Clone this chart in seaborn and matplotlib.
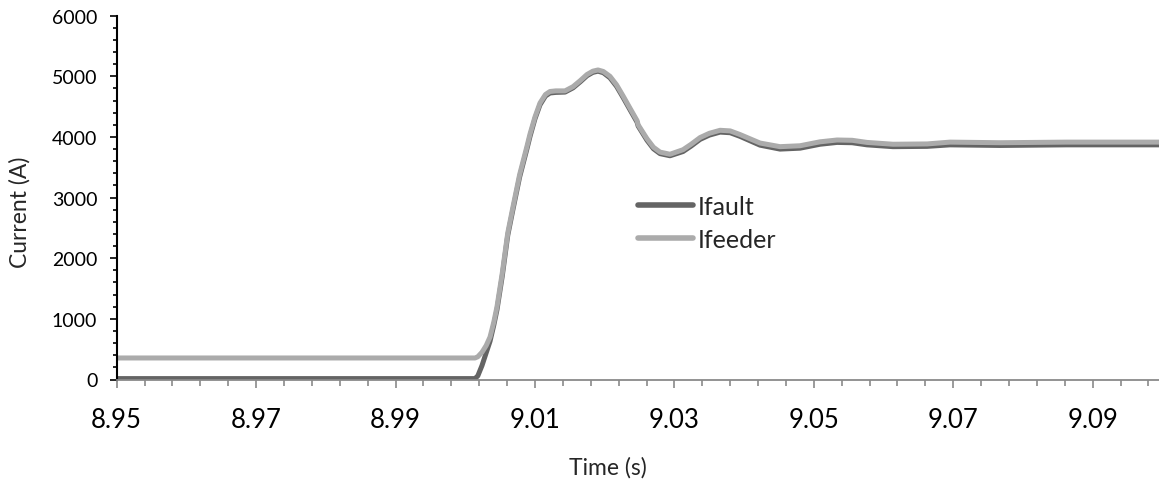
import numpy as np
import pandas as pd
import matplotlib
matplotlib.use("Agg")
import matplotlib.pyplot as plt
from matplotlib.ticker import FixedLocator
import seaborn as sns

# ---------------- data ----------------
time_s = [8.95, 9.0014, 9.0018, 9.0024, 9.0030, 9.00355, 9.0041, 9.00455, 9.0053,
          9.00599, 9.0061, 9.00685, 9.0078, 9.00886, 9.00929, 9.0100, 9.01072, 9.0115,
          9.01215, 9.0130, 9.01431, 9.01546, 9.0165, 9.01746, 9.01830, 9.01904, 9.0198,
          9.02076, 9.0217, 9.02262, 9.0236, 9.02464, 9.0248, 9.02607, 9.0270, 9.02794,
          9.02937, 9.03124, 9.0324, 9.03368, 9.0350, 9.03655, 9.0380, 9.03941, 9.04228,
          9.04515, 9.04802, 9.05089, 9.05333, 9.0555, 9.05763, 9.06136, 9.06624, 9.06954,
          9.07671, 9.08632, 9.1]

i_feeder = [355, 355, 375, 450, 560, 700, 950, 1200, 1750,
            2330, 2420, 2850, 3380, 3850, 4050, 4330, 4560, 4700,
            4750, 4760, 4760, 4830, 4930, 5030, 5085, 5105, 5080,
            5000, 4860, 4680, 4480, 4270, 4200, 3970, 3830, 3750,
            3715, 3790, 3880, 3990, 4060, 4110, 4100, 4040, 3900,
            3840, 3855, 3920, 3950, 3945, 3910, 3880, 3885, 3915,
            3905, 3915, 3915]

i_fault = [15, 15, 60, 230, 440, 630, 900, 1150, 1700,
           2290, 2380, 2810, 3340, 3810, 4010, 4300, 4530, 4675,
           4725, 4735, 4740, 4810, 4910, 5010, 5065, 5085, 5060,
           4975, 4835, 4655, 4455, 4245, 4180, 3945, 3805, 3725,
           3690, 3760, 3850, 3960, 4030, 4080, 4070, 4010, 3865,
           3800, 3815, 3880, 3910, 3905, 3870, 3840, 3845, 3870,
           3860, 3870, 3870]

series_names = ["Ifault", "Ifeeder"]
x_tick_labels = ["8.95", "8.97", "8.99", "9.01", "9.03", "9.05", "9.07", "9.09"]
y_tick_values = [0, 1000, 2000, 3000, 4000, 5000, 6000]

# ---------------- style ----------------
sns.set_style("ticks")
plt.rcParams["font.family"] = ["Lato", "DejaVu Sans"]

df = pd.DataFrame({
    "Time": time_s + time_s,
    "Current": i_fault + i_feeder,
    "Series": [series_names[0]] * len(time_s) + [series_names[1]] * len(time_s),
})

W, H = 1159, 485
fig = plt.figure(figsize=(W / 100, H / 100), dpi=100)
x0, x1 = 116.7, 1162.4
y0, y1 = 380.5, 16.7
ax = fig.add_axes([x0 / W, 1 - y0 / H, (x1 - x0) / W, (y0 - y1) / H])

palette = {"Ifault": "#646464", "Ifeeder": "#ababab"}
sns.lineplot(data=df, x="Time", y="Current", hue="Series", hue_order=series_names,
             palette=palette, linewidth=3.6, ax=ax, legend=False, sort=False,
             estimator=None)
for ln in ax.lines:
    ln.set_solid_joinstyle("round")
    ln.set_solid_capstyle("butt")

ax.set_xlim(8.95, 9.1)
ax.set_ylim(0, 6000)

# ticks
ax.xaxis.set_major_locator(FixedLocator([float(s) for s in x_tick_labels]))
ax.set_xticklabels(x_tick_labels)
ax.xaxis.set_minor_locator(FixedLocator(np.arange(8.95, 9.1001, 0.004)))
ax.yaxis.set_major_locator(FixedLocator(y_tick_values))
ax.set_yticklabels([str(v) for v in y_tick_values])
ax.yaxis.set_minor_locator(FixedLocator(np.arange(0, 6001, 200)))

ax.tick_params(axis="y", which="major", direction="out", length=5, width=1.2,
               color="black", labelsize=14, pad=9, labelcolor="black")
ax.tick_params(axis="y", which="minor", direction="out", length=3, width=1.2,
               color="black")
ax.tick_params(axis="x", which="major", direction="out", length=6, width=1.2,
               color="#8a8a8a", labelsize=18.5, pad=14, labelcolor="black")
ax.tick_params(axis="x", which="minor", direction="out", length=4.3, width=1.2,
               color="#8a8a8a")

for side in ("top", "right"):
    ax.spines[side].set_visible(False)
ax.spines["left"].set_color("black")
ax.spines["left"].set_linewidth(1.5)
ax.spines["bottom"].set_color("#8a8a8a")
ax.spines["bottom"].set_linewidth(1.3)

# axis titles
ax.set_xlabel("Time (s)", fontsize=16.5)
ax.set_ylabel("Current (A)", fontsize=16.5)
ax.xaxis.set_label_coords((608 - x0) / (x1 - x0), (y0 - 468) / (y0 - y1))
ax.xaxis.label.set_va("center")
ax.yaxis.set_label_coords((19.5 - x0) / (x1 - x0), (y0 - 212.5) / (y0 - y1))
ax.yaxis.label.set_va("center")

# legend
leg = ax.legend(ax.lines[:2], series_names, loc="upper left",
                bbox_to_anchor=(638 / W, 1 - 196 / H), bbox_transform=fig.transFigure,
                frameon=False, fontsize=18, handlelength=2.2, handletextpad=0.2,
                labelspacing=0.38, borderpad=0, borderaxespad=0)
for h in leg.get_lines():
    h.set_solid_capstyle("round")
    h.set_linewidth(4.0)

fig.savefig("out.png", dpi=100)
